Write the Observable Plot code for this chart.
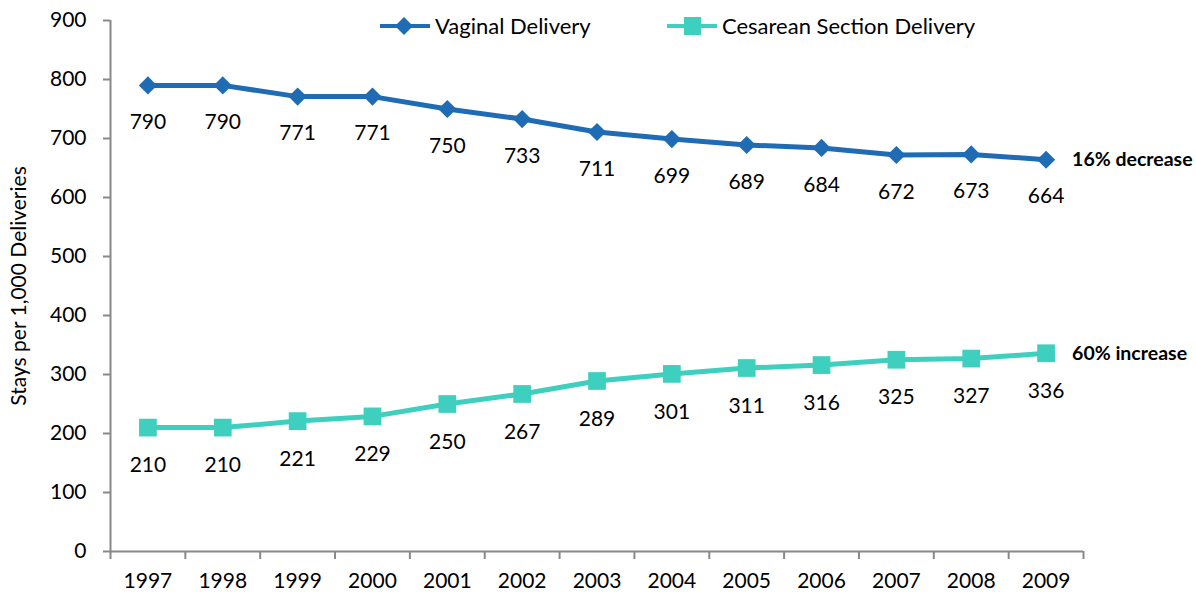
<!DOCTYPE html>
<html>
<head>
<meta charset="utf-8">
<script src="https://cdn.jsdelivr.net/npm/d3@7"></script>
<script src="https://cdn.jsdelivr.net/npm/@observablehq/plot@0.6"></script>
<style>
  html, body { margin: 0; padding: 0; background: #fff; }
  #wrap { position: relative; width: 1196px; height: 604px; font-family: Lato, "Open Sans", sans-serif; }
  .leg { position: absolute; top: 12px; display: flex; align-items: center; font-size: 22px; color: #000; white-space: nowrap; }
  .leg svg { margin-right: 5px; }
</style>
</head>
<body>
<div id="wrap"></div>
<script>
const years = [1997, 1998, 1999, 2000, 2001, 2002, 2003, 2004, 2005, 2006, 2007, 2008, 2009];
const vaginal = [790, 790, 771, 771, 750, 733, 711, 699, 689, 684, 672, 673, 664];
const cesarean = [210, 210, 221, 229, 250, 267, 289, 301, 311, 316, 325, 327, 336];
const seriesNames = ["Vaginal Delivery", "Cesarean Section Delivery"];
const seriesColors = ["#1F6CB4", "#3FCFBF"];
const annotations = ["16% decrease", "60% increase"];
const yTicks = [0, 100, 200, 300, 400, 500, 600, 700, 800, 900];
const yTitle = "Stays per 1,000 Deliveries";

const vagData = years.map((year, i) => ({year, value: vaginal[i]}));
const cesData = years.map((year, i) => ({year, value: cesarean[i]}));
const boundaries = years.map(y => y - 0.5).concat([years[years.length - 1] + 0.5]);
const lastPoints = [
  {year: years[years.length - 1], value: vaginal[vaginal.length - 1], text: annotations[0]},
  {year: years[years.length - 1], value: cesarean[cesarean.length - 1], text: annotations[1]}
];

const axisGray = "#888888";

const chart = Plot.plot({
  width: 1196,
  height: 604,
  marginLeft: 110,
  marginRight: 113,
  marginTop: 20,
  marginBottom: 53,
  style: {fontFamily: "Lato, 'Open Sans', sans-serif", fontSize: "21px", color: "#000", background: "#fff"},
  x: {type: "linear", domain: [boundaries[0], boundaries[boundaries.length - 1]]},
  y: {domain: [0, 900]},
  marks: [
    Plot.axisY({ticks: yTicks, tickSize: 7, tickPadding: 17, stroke: axisGray, strokeWidth: 2, fill: "#000", label: null}),
    Plot.axisX({ticks: years, tickSize: 0, tickPadding: 22, tickFormat: d => String(d), fill: "#000", label: null}),
    Plot.axisX({ticks: boundaries, tickSize: 8, tickFormat: () => "", stroke: axisGray, strokeWidth: 2, label: null}),
    Plot.ruleX([boundaries[0]], {stroke: axisGray, strokeWidth: 2}),
    Plot.ruleY([0], {stroke: axisGray, strokeWidth: 2}),
    Plot.text([yTitle], {frameAnchor: "left", textAnchor: "middle", rotate: -90, dx: -91, fontSize: 21, fill: "#000"}),
    Plot.line(vagData, {x: "year", y: "value", stroke: seriesColors[0], strokeWidth: 5}),
    Plot.line(cesData, {x: "year", y: "value", stroke: seriesColors[1], strokeWidth: 5}),
    Plot.dot(vagData, {x: "year", y: "value", symbol: "diamond2", r: 8.2, fill: seriesColors[0], stroke: null}),
    Plot.dot(cesData, {x: "year", y: "value", symbol: "square", r: 10, fill: seriesColors[1], stroke: null}),
    Plot.text(vagData, {x: "year", y: "value", text: d => String(d.value), dy: 37, fontSize: 21, fill: "#000"}),
    Plot.text(cesData, {x: "year", y: "value", text: d => String(d.value), dy: 38, fontSize: 21, fill: "#000"}),
    Plot.text(lastPoints, {x: "year", y: "value", text: "text", dx: 26, textAnchor: "start", fontWeight: "bold", fontSize: 19.5, fill: "#000"})
  ]
});

const wrap = document.getElementById("wrap");
wrap.appendChild(chart);

// Legend overlay
const legendLeft = [380, 667];
seriesNames.forEach((name, i) => {
  const item = d3.select(wrap).append("div").attr("class", "leg").style("left", legendLeft[i] + "px");
  const svg = item.append("svg").attr("width", 50).attr("height", 26);
  svg.append("line").attr("x1", 0).attr("x2", 50).attr("y1", 13).attr("y2", 13)
    .attr("stroke", seriesColors[i]).attr("stroke-width", 4);
  if (i === 0) {
    svg.append("path").attr("d", "M24,4 L33,13 L24,22 L15,13 Z").attr("fill", seriesColors[i]);
  } else {
    svg.append("rect").attr("x", 17).attr("y", 4).attr("width", 17).attr("height", 18).attr("fill", seriesColors[i]);
  }
  item.append("span").text(name);
});
</script>
</body>
</html>
